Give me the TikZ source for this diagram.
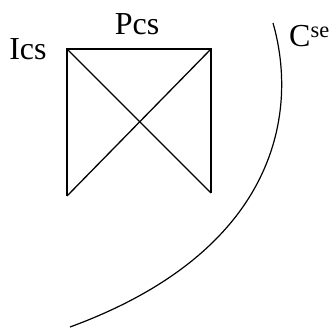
\documentclass[tikz,border=0pt]{standalone}
\usepackage{fontspec}
\setmainfont{Liberation Serif}
\usetikzlibrary{positioning}
\tikzset{lbl/.style={font=\fontsize{32}{36}\selectfont,inner sep=0pt},edge/.style={line width=1.3pt,draw=black},bound/.style={line width=1.2pt,draw=black}}

\begin{document}
\begin{tikzpicture}[x=1pt,y=-1pt]
\useasboundingbox (0,0) rectangle (329,329);
% square with its two diagonals
\coordinate (tl) at (67,49);
\coordinate (tr) at (211,49);
\coordinate (bl) at (67,196);
\coordinate (br) at (211,193);
\draw[edge] (bl)--(tl)--(tr)--(br);
\draw[edge] (tl)--(br);\draw[edge] (bl)--(tr);
% outer boundary
\coordinate (ctop) at (273,23);
\coordinate (cbot) at (70,327);
\draw[bound] (ctop) .. controls (298,110) and (280,250) .. (cbot);
\node[lbl] (ics) at (28,49) {Ics};
\node[lbl] (pcs) at (137,24) {Pcs};
\node[lbl,anchor=west] (cse) at (289,36) {C\textsuperscript{se}};
\end{tikzpicture}
\end{document}
